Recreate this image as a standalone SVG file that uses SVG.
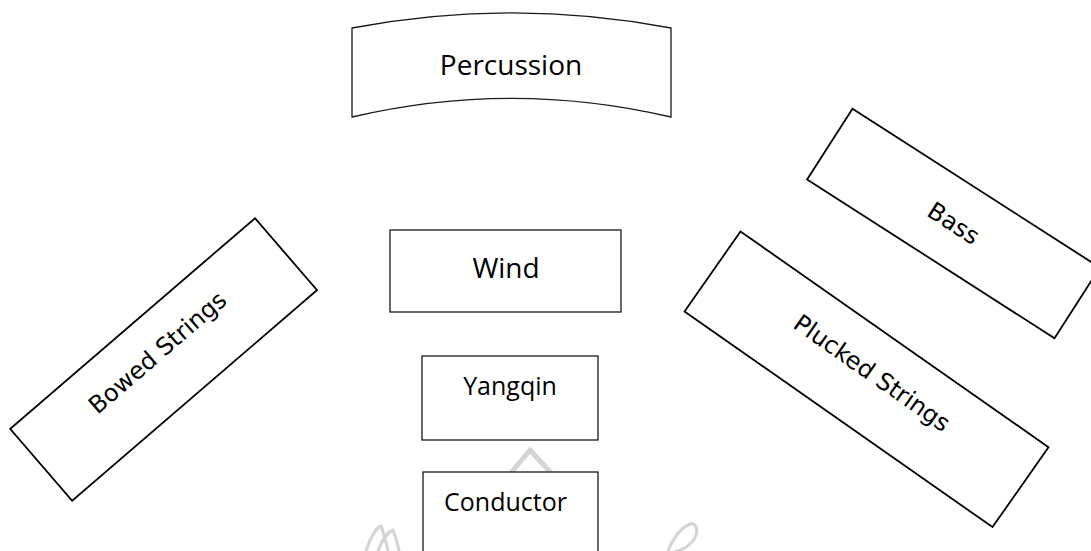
<svg xmlns="http://www.w3.org/2000/svg" width="1091" height="551" viewBox="0 0 1091 551">
  <style>
    .box { fill: #ffffff; stroke: #1a1a1a; stroke-width: 1.3; }
    .tilt { fill: #ffffff; stroke: #000000; stroke-width: 1.8; }
    .label { font-family: "Open Sans", "Liberation Sans", sans-serif; fill: #000000; text-anchor: middle; }
    .tlabel { font-family: "DejaVu Sans", "Liberation Sans", sans-serif; fill: #000000; text-anchor: middle; font-size: 24px; }
    .mark { fill: none; stroke: #d4d4d4; stroke-linecap: round; stroke-linejoin: round; }
  </style>
  <rect width="1091" height="551" fill="#ffffff"/>

  <!-- faint background crest -->
  <g id="crest">
    <polyline class="mark" points="510,474 530,450 552,474" stroke-width="5"/>
    <path class="mark" d="M366,551 C370,538 376,528 381,526 C384,534 386,542 388,551 M378,551 C382,540 388,532 393,530 C396,538 398,545 399,551" stroke-width="3"/>
    <path class="mark" d="M668,551 C672,540 680,528 690,524 C698,522 699,534 692,542 C686,548 680,551 676,551" stroke-width="3"/>
  </g>

  <g id="percussion">
    <path class="box" d="M352,28 A855,855 0 0 1 671,28 L671,117 A700,700 0 0 0 352,117 Z"/>
    <text class="label" x="511" y="75" font-size="28">Percussion</text>
  </g>

  <g id="wind">
    <rect class="box" x="390" y="230" width="231" height="82"/>
    <text class="label" x="506" y="278" font-size="28">Wind</text>
  </g>

  <g id="yangqin">
    <rect class="box" x="422" y="356" width="176" height="84"/>
    <text class="label" x="510" y="395" font-size="25">Yangqin</text>
  </g>

  <g id="conductor">
    <rect class="box" x="423" y="472" width="175" height="90"/>
    <text class="label" x="505.5" y="511" font-size="25">Conductor</text>
  </g>

  <g id="bowed-strings" transform="translate(163.6,359.5) rotate(-40.7)">
    <rect class="tilt" x="-161.5" y="-47.5" width="323" height="95"/>
    <text class="tlabel" x="0" y="-1">Bowed Strings</text>
  </g>

  <g id="bass" transform="translate(953.5,223.5) rotate(32.7)">
    <rect class="tilt" x="-147" y="-42" width="294" height="84"/>
    <text class="tlabel" x="0" y="8">Bass</text>
  </g>

  <g id="plucked-strings" transform="translate(866.5,379.3) rotate(35)">
    <rect class="tilt" x="-188" y="-48.8" width="376" height="97.6"/>
    <text class="tlabel" x="1" y="0" font-size="26.5">Plucked Strings</text>
  </g>

  <!-- no connectors between sections -->
  <g id="connectors"/>
</svg>
